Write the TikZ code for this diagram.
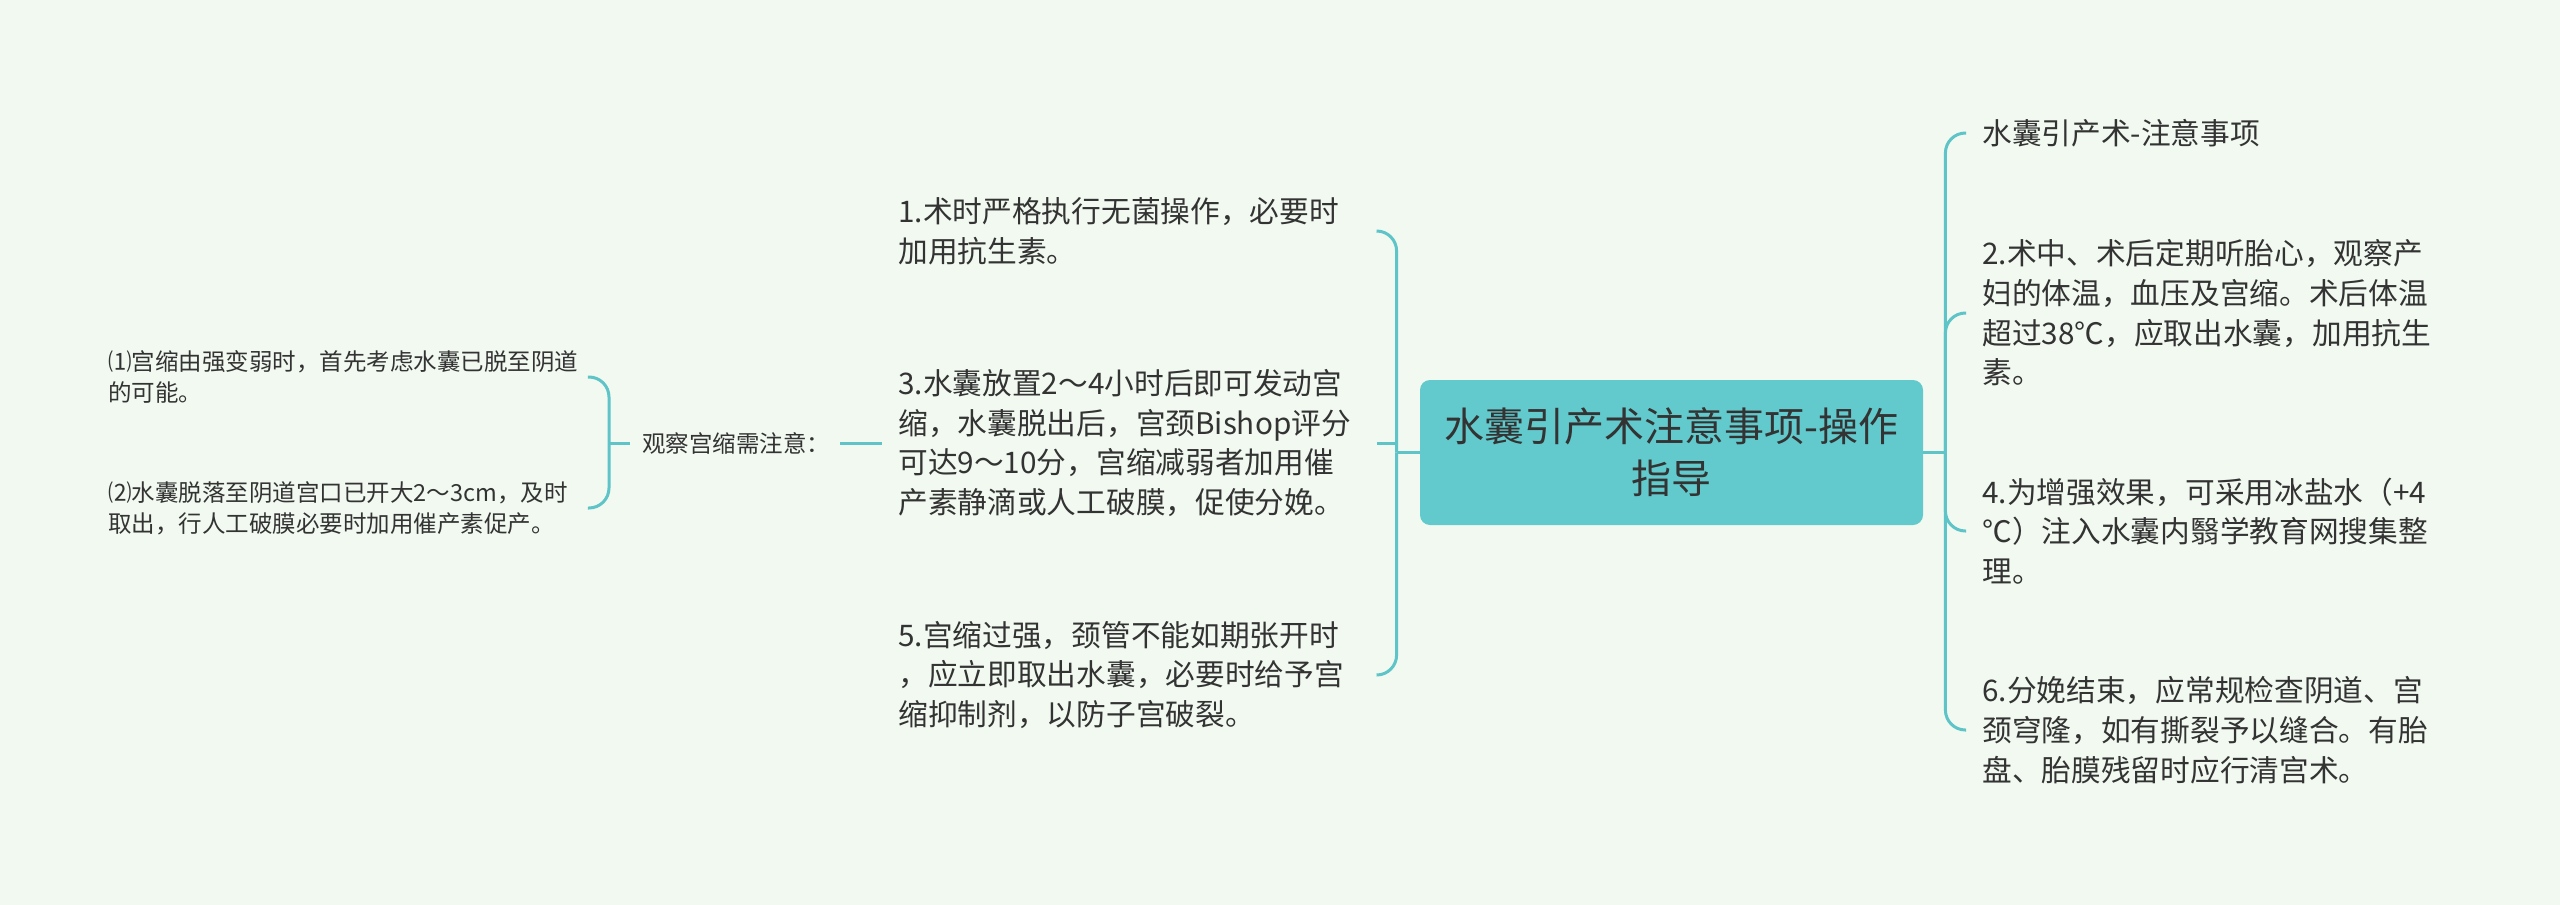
\documentclass[tikz,border=0pt]{standalone}
\usepackage{fontspec}
\setmainfont{Noto Sans CJK SC}
\definecolor{bgc}{RGB}{241,249,241}
\definecolor{mainc}{HTML}{62C9CC}
\definecolor{linec}{HTML}{5FC4C8}
\definecolor{txt}{HTML}{333333}
\begin{document}
\begin{tikzpicture}[x=0.5pt,y=-0.5pt,
  conn/.style={draw=linec,line width=1.5pt},
  curl/.style={conn,rounded corners=10pt},
  topic/.style={fill=mainc,rounded corners=5pt,text=txt,align=center,
    font=\fontsize{20pt}{26pt}\selectfont,minimum width=251.5pt,minimum height=72.5pt,inner sep=0pt},
  midtext/.style={anchor=west,text=txt,align=left,inner xsep=8pt,inner ysep=0pt,
    font=\fontsize{14.85pt}{19.85pt}\selectfont},
  lefttext/.style={midtext,text width=231pt},
  righttext/.style={midtext,text width=235pt},
  smalltext/.style={anchor=west,text=txt,align=left,inner xsep=4pt,inner ysep=0pt,
    text width=235.5pt,font=\fontsize{11.75pt}{15.5pt}\selectfont},
  grouptext/.style={anchor=west,text=txt,inner xsep=6pt,inner ysep=0pt,
    font=\fontsize{11.75pt}{15.5pt}\selectfont}
]
\useasboundingbox (0,0) rectangle (2560,905);
\fill[bgc] (0,0) rectangle (2560,905);

% central topic
\node[topic] (c) at (1671.5,452.5) {水囊引产术注意事项-操作\\指导};

% left branch
\node[lefttext] (n1) at (882,231) {1.术时严格执行无菌操作，必要时\\加用抗生素。};
\node[lefttext] (n3) at (882,443) {3.水囊放置2～4小时后即可发动宫\\缩，水囊脱出后，宫颈Bishop评分\\可达9～10分，宫缩减弱者加用催\\产素静滴或人工破膜，促使分娩。};
\node[lefttext] (n5) at (882,675) {5.宫缩过强，颈管不能如期张开时\\，应立即取出水囊，必要时给予宫\\缩抑制剂，以防子宫破裂。};

\node[grouptext] (g) at (630,443) {观察宫缩需注意：};
\node[smalltext] (p1) at (100,377) {⑴宫缩由强变弱时，首先考虑水囊已脱至阴道\\的可能。};
\node[smalltext] (p2) at (100,508) {⑵水囊脱落至阴道宫口已开大2～3cm，及时\\取出，行人工破膜必要时加用催产素促产。};

% right branch
\node[righttext] (r0) at (1966,133) {水囊引产术-注意事项};
\node[righttext] (r2) at (1966,313) {2.术中、术后定期听胎心，观察产\\妇的体温，血压及宫缩。术后体温\\超过38℃，应取出水囊，加用抗生\\素。};
\node[righttext] (r4) at (1966,531) {4.为增强效果，可采用冰盐水（+4\\℃）注入水囊内翳学教育网搜集整\\理。};
\node[righttext] (r6) at (1966,730) {6.分娩结束，应常规检查阴道、宫\\颈穹隆，如有撕裂予以缝合。有胎\\盘、胎膜残留时应行清宫术。};

% connectors left
\draw[conn] (c.west) -- ++(-23,0) coordinate (lj);
\draw[curl] (lj) |- (n1.east);
\draw[curl] (lj) |- (n5.east);
\draw[conn] (n3.east) -- (n3.east -| lj);
\draw[conn,shorten <=-1.5pt] (g.east) -- (n3.west);
\draw[conn] (g.west) -- ++(-21,0) coordinate (gj);
\draw[curl] (gj) |- (p1.east);
\draw[curl] (gj) |- (p2.east);

% connectors right
\draw[conn] (c.east) -- ++(22,0) coordinate (rj);
\draw[curl] (rj) |- (r0.west);
\draw[curl] (rj) |- (r2.west);
\draw[curl] (rj) |- (r4.west);
\draw[curl] (rj) |- (r6.west);
\end{tikzpicture}
\end{document}
